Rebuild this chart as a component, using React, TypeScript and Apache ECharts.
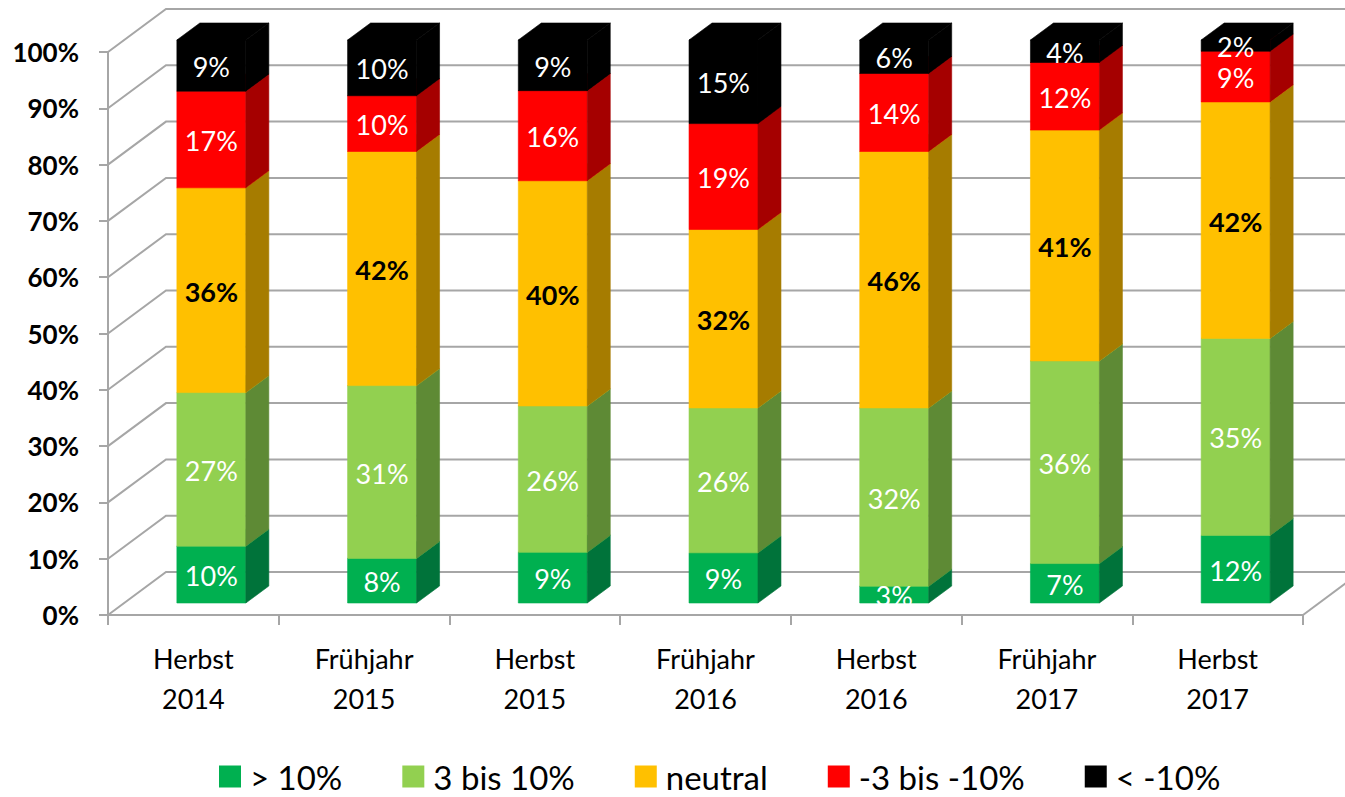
import React, { useEffect, useRef } from "react";
import * as echarts from "echarts";

const categories = [
  "Herbst 2014",
  "Frühjahr 2015",
  "Herbst 2015",
  "Frühjahr 2016",
  "Herbst 2016",
  "Frühjahr 2017",
  "Herbst 2017",
];
const seriesNames = ["> 10%", "3 bis 10%", "neutral", "-3 bis -10%", "< -10%"];
const over10 = [10, 8, 9, 9, 3, 7, 12];
const from3to10 = [27, 31, 26, 26, 32, 36, 35];
const neutral = [36, 42, 40, 32, 46, 41, 42];
const minus3to10 = [17, 10, 16, 19, 14, 12, 9];
const below10 = [9, 10, 9, 15, 6, 4, 2];
const yTicks = [0, 10, 20, 30, 40, 50, 60, 70, 80, 90, 100];

const frontColors = ["#00B050", "#92D050", "#FFC000", "#FF0000", "#000000"];
const sideColors = ["#00733A", "#5E8A35", "#A67C00", "#A50000", "#000000"];
const labelColors = ["#FFFFFF", "#FFFFFF", "#000000", "#FFFFFF", "#FFFFFF"];
const labelWeights = ["normal", "normal", "bold", "normal", "normal"];

const FONT = 'Lato, "Noto Sans", sans-serif';
const GRID_COLOR = "#A6A6A6";
const DEPTH_X = 58;
const DEPTH_Y = -43;
const BAR_OFF_X = 18;
const BAR_OFF_Y = -12;
const BAR_DX = 23;
const BAR_DY = -17;

export default function App() {
  const ref = useRef<HTMLDivElement>(null);

  useEffect(() => {
    if (!ref.current) return;
    const chart = echarts.init(ref.current, null, { renderer: "svg" });
    const all = [over10, from3to10, neutral, minus3to10, below10];
    const totals = categories.map((_, i) => all.reduce((s, arr) => s + arr[i], 0));

    const barSeries = all.map((arr, si) => {
      const data = arr.map((v, ci) => {
        let startRaw = 0;
        for (let k = 0; k < si; k++) startRaw += all[k][ci];
        const start = (startRaw / totals[ci]) * 100;
        const end = ((startRaw + v) / totals[ci]) * 100;
        return [ci, end, start, v];
      });
      return {
        type: "custom",
        name: seriesNames[si],
        coordinateSystem: "cartesian2d",
        encode: { x: 0, y: 1 },
        itemStyle: { color: frontColors[si] },
        z: 5,
        data,
        renderItem: (params: any, api: any) => {
          const cat = api.value(0);
          const end = api.value(1);
          const start = api.value(2);
          const raw = api.value(3);
          const pTop = api.coord([cat, end]);
          const pBot = api.coord([cat, start]);
          const bw = api.size([1, 0])[0] * 0.404;
          const L = pTop[0] - bw / 2 + BAR_OFF_X;
          const R = L + bw;
          const yT = pTop[1] + BAR_OFF_Y;
          const yB = pBot[1] + BAR_OFF_Y;
          return {
            type: "group",
            children: [
              {
                type: "rect",
                z2: si * 3,
                shape: { x: L, y: yT, width: bw, height: yB - yT },
                style: { fill: frontColors[si], stroke: frontColors[si], lineWidth: 0.6 },
              },
              {
                type: "polygon",
                z2: si * 3 + 1,
                shape: {
                  points: [
                    [R, yB],
                    [R + BAR_DX, yB + BAR_DY],
                    [R + BAR_DX, yT + BAR_DY],
                    [R, yT],
                  ],
                },
                style: { fill: sideColors[si], stroke: sideColors[si], lineWidth: 0.6 },
              },
              {
                type: "polygon",
                z2: si * 3 + 2,
                shape: {
                  points: [
                    [L, yT],
                    [R, yT],
                    [R + BAR_DX, yT + BAR_DY],
                    [L + BAR_DX, yT + BAR_DY],
                  ],
                },
                style: { fill: frontColors[si], stroke: frontColors[si], lineWidth: 0.6 },
              },
              {
                type: "text",
                z2: 100,
                x: (L + R) / 2,
                y: (yT + yB) / 2 + 1,
                style: {
                  text: raw + "%",
                  fill: labelColors[si],
                  fontSize: 27,
                  fontFamily: FONT,
                  fontWeight: labelWeights[si],
                  align: "center",
                  verticalAlign: "middle",
                },
              },
            ],
          };
        },
      };
    });

    const gridSeries = {
      type: "custom",
      name: "grid",
      coordinateSystem: "cartesian2d",
      encode: { x: 0, y: 1 },
      silent: true,
      z: 1,
      data: yTicks.map((v) => [0, v]),
      renderItem: (params: any, api: any) => {
        const v = api.value(1);
        const y = api.coord([0, v])[1];
        const cs = params.coordSys;
        const x0 = cs.x;
        const x1 = cs.x + cs.width;
        const children: any[] = [
          {
            type: "polyline",
            shape: {
              points: [
                [x0, y],
                [x0 + DEPTH_X, y + DEPTH_Y],
                [x1 + DEPTH_X, y + DEPTH_Y],
              ],
            },
            style: { stroke: GRID_COLOR, lineWidth: 2, fill: "none" },
          },
        ];
        if (v === 0) {
          children.push({
            type: "line",
            shape: { x1: x1, y1: y, x2: x1 + DEPTH_X, y2: y + DEPTH_Y },
            style: { stroke: GRID_COLOR, lineWidth: 2 },
          });
        }
        return { type: "group", children };
      },
    };

    chart.setOption({
      animation: false,
      color: frontColors,
      textStyle: { fontFamily: FONT },
      grid: { left: 108, right: 42, top: 52, bottom: 182 },
      xAxis: {
        type: "category",
        data: categories,
        axisLine: { show: true, lineStyle: { color: GRID_COLOR, width: 2 } },
        axisTick: { show: true, length: 10, interval: 0, lineStyle: { color: GRID_COLOR, width: 2 } },
        axisLabel: {
          interval: 0,
          margin: 23,
          fontSize: 27,
          lineHeight: 40,
          color: "#000",
          fontFamily: FONT,
          formatter: (s: string) => s.replace(" ", "\n"),
        },
      },
      yAxis: {
        type: "value",
        min: 0,
        max: 100,
        interval: 10,
        axisLine: { show: true, lineStyle: { color: GRID_COLOR, width: 2 } },
        axisTick: { show: true, length: 9, lineStyle: { color: GRID_COLOR, width: 2 } },
        splitLine: { show: false },
        axisLabel: {
          margin: 29,
          fontSize: 26,
          fontWeight: "bold",
          color: "#000",
          fontFamily: FONT,
          formatter: (v: number) => v + "%",
        },
      },
      legend: {
        data: seriesNames,
        left: 219,
        top: 760,
        icon: "rect",
        itemWidth: 22,
        itemHeight: 22,
        itemGap: 60,
        padding: 0,
        textStyle: {
          fontSize: 33,
          lineHeight: 33,
          color: "#000",
          fontFamily: FONT,
          padding: [0, 0, 0, 4],
        },
      },
      series: [gridSeries, ...barSeries],
    });

    return () => chart.dispose();
  }, []);

  return (
    <div
      ref={ref}
      style={{ position: "fixed", left: 0, top: 0, width: 1345, height: 797, background: "#fff" }}
    />
  );
}
